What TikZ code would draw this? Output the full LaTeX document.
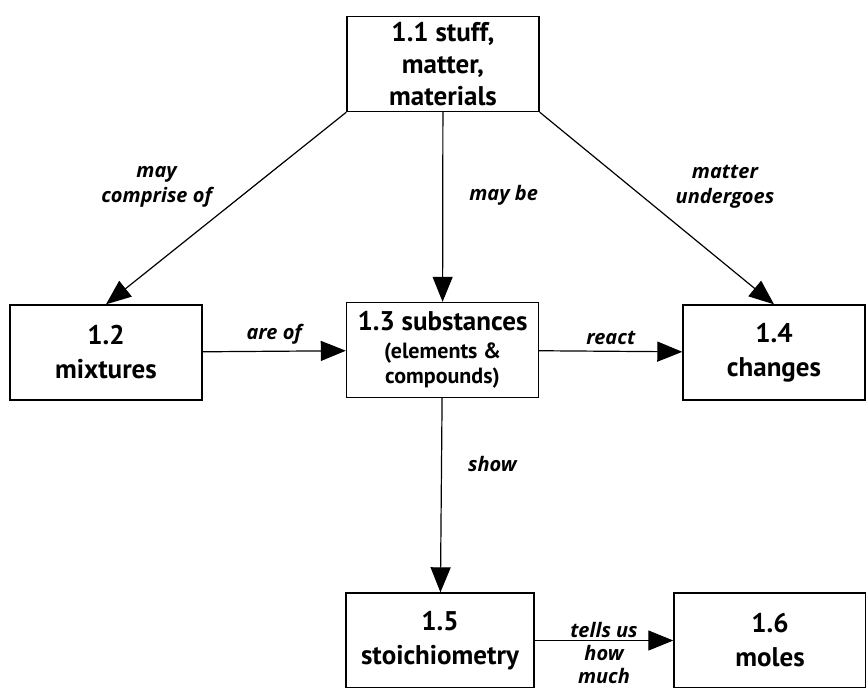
\documentclass[tikz,border=0pt]{standalone}
\usepackage{fontspec}
\setmainfont{PT Sans}
\newfontfamily\linkfont{Open Sans}
\usetikzlibrary{arrows.meta, positioning}

\tikzset{
  topic/.style={draw, line width=0.7pt, minimum width=96pt, minimum height=47.5pt,
    inner sep=0pt, align=center, font=\bfseries\fontsize{13.5}{17}\selectfont},
  link/.style={line width=0.6pt, -{Triangle[length=12.5pt,width=10pt]}},
  linklabel/.style={inner sep=0pt, align=center,
    font=\linkfont\bfseries\itshape\fontsize{10}{12.5}\selectfont},
}

\begin{document}
\begin{tikzpicture}[x=0.5pt, y=-0.5pt]
\clip (0,0) rectangle (866,687);

% boxes
\node[topic] (stuff) at (443,64) {1.1 stuff,\\[-1pt]matter,\\[-1pt]materials};
\node[topic] (mix) at (106,352.5) {1.2\\mixtures};
\node[topic] (subst) at (442.5,350) {1.3 substances\\[-3pt]
  {\fontsize{11}{12.5}\selectfont (elements \&}\\[-4.5pt]
  {\fontsize{11}{12.5}\selectfont compounds)}};
\node[topic, minimum width=91pt] (change) at (774,352.5) {1.4\\changes};
\node[topic, minimum width=94pt] (stoich) at (440,640.5) {1.5\\stoichiometry};
\node[topic] (moles) at (770,640.5) {1.6\\moles};

% links
\draw[link] (stuff.south west) -- node[linklabel, pos=0.39, left=20pt] {may\\comprise of} (mix.north);
\draw[link] (stuff) -- node[linklabel, pos=0.44, right=13pt] {may be} (subst);
\draw[link] (stuff.south east) -- node[linklabel, pos=0.39, right=22pt] {matter\\undergoes} (change.north);
\draw[link] (mix) -- node[linklabel, above=3pt] {are of} (subst);
\draw[link] (subst) -- node[linklabel, above=3pt] {react} (change);
\draw[link] (subst) -- node[linklabel, pos=0.34, right=13pt] {show} (stoich);
\draw[link] (stoich) -- node[linklabel, anchor=north, yshift=9.5pt] {tells us\\[-1pt]how\\[-1pt]much} (moles);
\end{tikzpicture}
\end{document}
